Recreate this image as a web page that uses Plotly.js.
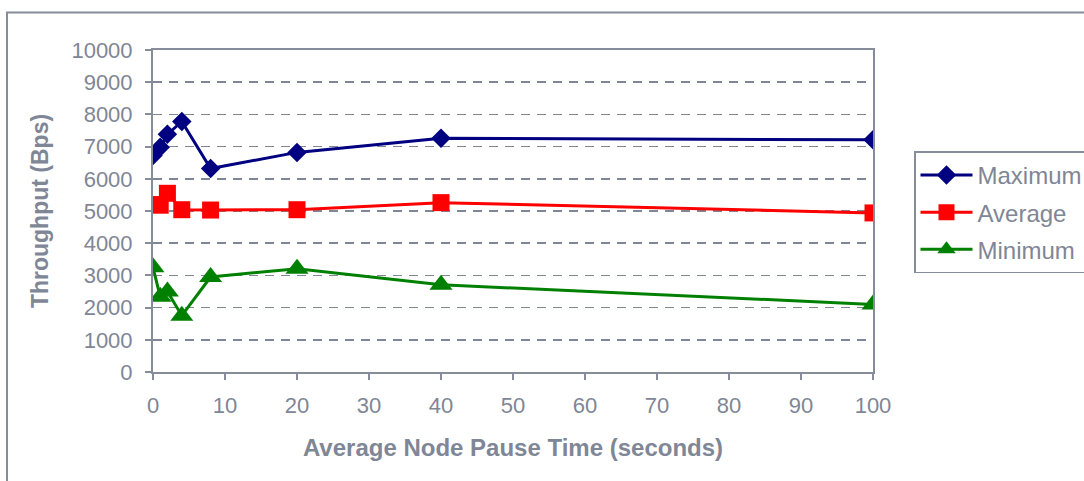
<!DOCTYPE html>
<html>
<head>
<meta charset="utf-8">
<script src="https://cdn.plot.ly/plotly-3.0.1.min.js"></script>
<style>html,body{margin:0;padding:0;background:#fff;}#chart{width:1084px;height:481px;}</style>
</head>
<body>
<div id="chart"></div>
<script>
const pauseTime = [0, 1, 2, 4, 8, 20, 40, 100];
const maximum = [6720, 6980, 7380, 7780, 6320, 6820, 7260, 7210];
const average = [5200, 5180, 5550, 5040, 5030, 5040, 5260, 4940];
const minimum = [3250, 2340, 2500, 1750, 2950, 3210, 2710, 2100];
const seriesNames = ['Maximum', 'Average', 'Minimum'];
const yTicks = [0,1000,2000,3000,4000,5000,6000,7000,8000,9000,10000];
const xTicks = [0,10,20,30,40,50,60,70,80,90,100];

const txt = '#7f8696';
const axisCol = '#868c9a';
const fontFam = '"Liberation Sans", Arial, sans-serif';

const traces = [
  {x: pauseTime, y: maximum, name: seriesNames[0], legendgroup: 'a', mode: 'lines+markers',
   line: {color: '#000080', width: 3}, marker: {symbol: 'diamond', size: 15, color: '#000080'}},
  {x: pauseTime, y: average, name: seriesNames[1], legendgroup: 'b', mode: 'lines+markers',
   line: {color: '#ff0000', width: 3}, marker: {symbol: 'square', size: 17, color: '#ff0000'}},
  {x: pauseTime, y: minimum, name: seriesNames[2], legendgroup: 'c', mode: 'lines+markers',
   line: {color: '#008000', width: 3}, marker: {symbol: 'triangle-up', size: 20, color: '#008000'}}
];

const L = 153, R = 1084 - 873, T = 49.5, B = 481 - 372;
const pw = 1084 - L - R, ph = 481 - T - B;

const layout = {
  width: 1084, height: 481,
  margin: {l: L, r: R, t: T, b: B, pad: 0, autoexpand: false},
  paper_bgcolor: '#ffffff', plot_bgcolor: '#ffffff',
  font: {family: fontFam, size: 22, color: txt},
  showlegend: true,
  legend: {
    x: (914 - L) / pw, xanchor: 'left',
    y: (372 - 151) / ph, yanchor: 'top',
    bordercolor: axisCol, borderwidth: 1.5, bgcolor: '#ffffff',
    font: {family: fontFam, size: 24, color: txt},
    itemwidth: 52, tracegroupgap: 3, traceorder: 'grouped'
  },
  xaxis: {
    range: [0, 100], tickvals: xTicks, ticktext: xTicks.map(String),
    showgrid: false, zeroline: false, automargin: false,
    showline: true, linecolor: axisCol, linewidth: 2, mirror: true,
    ticks: 'outside', ticklen: 6, tickwidth: 2, tickcolor: axisCol,
    ticklabelstandoff: 7,
    tickfont: {family: fontFam, size: 22, color: txt},
    title: {text: '<b>Average Node Pause Time (seconds)</b>', standoff: 22,
            font: {family: fontFam, size: 24, color: txt}}
  },
  yaxis: {
    range: [0, 10000], tickvals: yTicks, ticktext: yTicks.map(String),
    showgrid: true, gridcolor: '#808898', gridwidth: 1.5, griddash: '9px,7px',
    zeroline: false, automargin: false,
    showline: true, linecolor: axisCol, linewidth: 2, mirror: true,
    ticks: 'outside', ticklen: 6, tickwidth: 2, tickcolor: axisCol,
    ticklabelstandoff: 8,
    tickfont: {family: fontFam, size: 22, color: txt},
    title: {text: '<b>Throughput (Bps)</b>', standoff: 16,
            font: {family: fontFam, size: 23, color: txt}}
  },
  shapes: [
    {type: 'rect', xref: 'paper', yref: 'paper',
     x0: (7 - L) / pw, x1: 3, y0: -3, y1: (372 - 12) / ph,
     line: {color: axisCol, width: 2}, fillcolor: 'rgba(0,0,0,0)', layer: 'below'}
  ]
};

Plotly.newPlot('chart', traces, layout, {displayModeBar: false, staticPlot: true});
</script>
</body>
</html>
